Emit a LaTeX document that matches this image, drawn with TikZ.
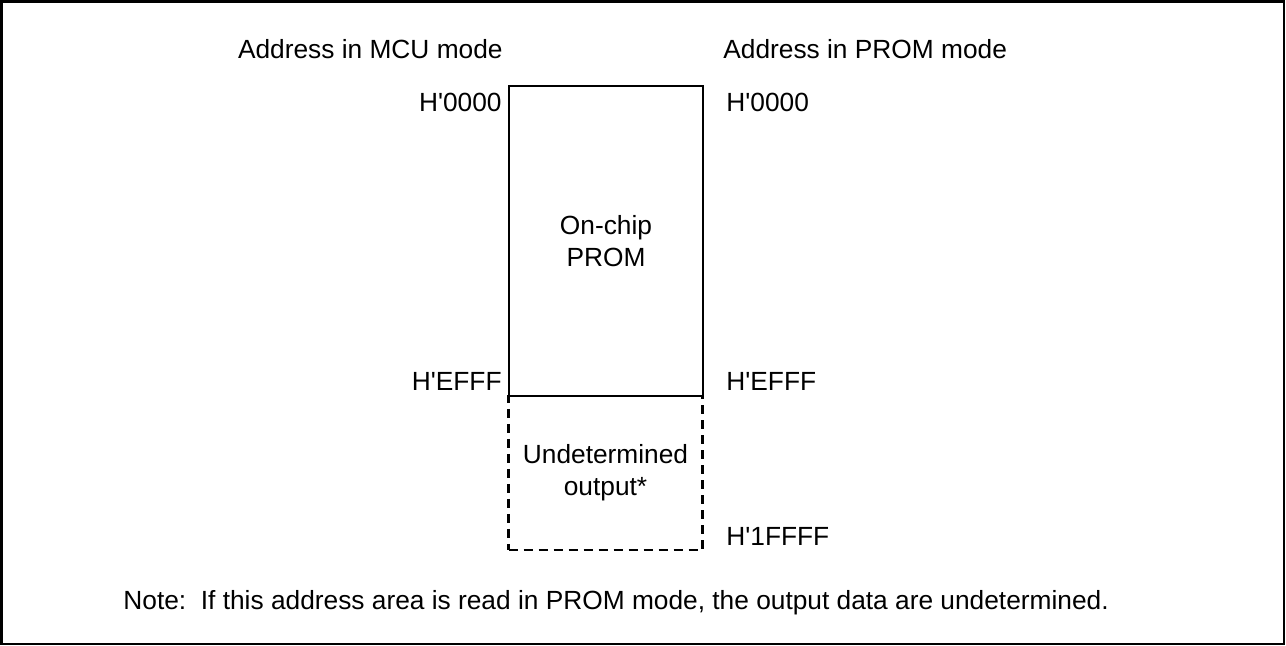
\documentclass[tikz,border=0pt]{standalone}
\usepackage{fontspec}
\setmainfont{Liberation Sans}
\usetikzlibrary{positioning}
\newcommand{\haddr}[1]{H\textquotesingle#1}

\begin{document}
\begin{tikzpicture}[x=0.5pt,y=-0.5pt,
 every node/.style={font=\fontsize{13.15}{16}\selectfont},
 mem/.style={draw,line width=1.4pt,minimum width=97pt,align=center,inner sep=0pt},
 addr/.style={inner sep=0pt}]
\useasboundingbox (0,0) rectangle (1286,646);
\draw[line width=1.2pt] (1.5,1.5) rectangle (1284,644);
% memory areas
\node[mem,dashed,dash pattern=on 4.5pt off 3pt,minimum height=77pt] (undet) at (605.5,473) {Undetermined\\ output*};
\node[mem,minimum height=155pt] (prom) at (606,241) {On-chip\\ PROM};
% headings
\node[addr,anchor=east] (mcuhead) at (503,49) {Address in MCU mode};
\node[addr,anchor=west] (promhead) at (723,49) {Address in PROM mode};
% addresses
\node[addr,anchor=east] (mcutop) at (502,102) {\haddr{0000}};
\node[addr,anchor=west] (promtop) at (726,102) {\haddr{0000}};
\node[addr,anchor=east] (mcuend) at (502,381) {\haddr{EFFF}};
\node[addr,anchor=west] (promend) at (726,381) {\haddr{EFFF}};
\node[addr,anchor=west] (promlast) at (726,536) {\haddr{1FFFF}};
% note
\node[addr,anchor=base west] (note) at (123,610) {Note:\ \ If this address area is read in PROM mode, the output data are undetermined.};
\end{tikzpicture}
\end{document}
